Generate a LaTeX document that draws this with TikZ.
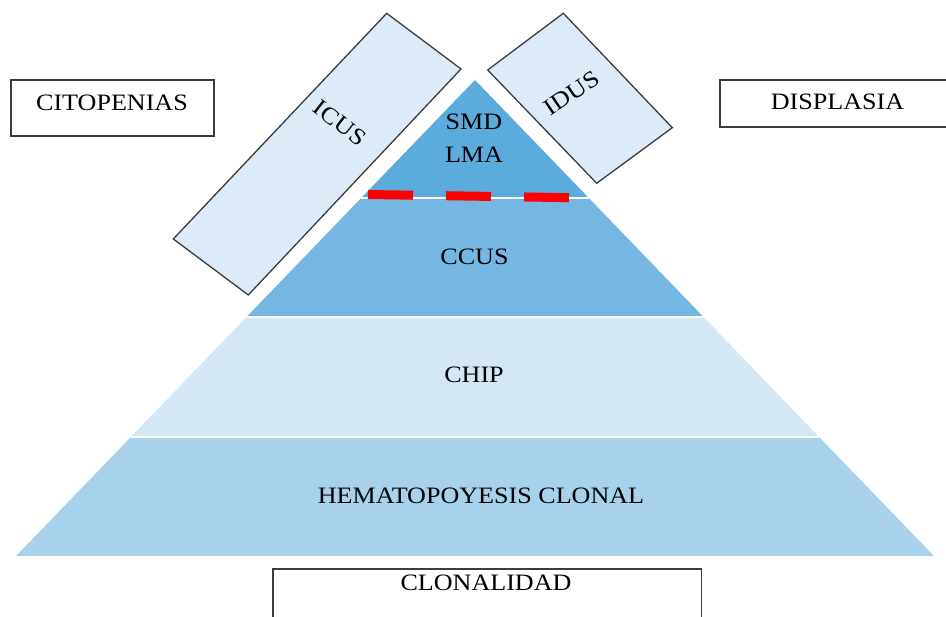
\documentclass[tikz,border=0pt]{standalone}
\usepackage{fontspec}
\setmainfont{Liberation Serif}[FakeStretch=1.11]
\begin{document}
\begin{tikzpicture}[x=1pt, y=1pt]
        \definecolor{layertop}{RGB}{92,171,221}
\definecolor{layerccus}{RGB}{117,183,226}
\definecolor{layerchip}{RGB}{211,231,245}
\definecolor{layerbase}{RGB}{168,210,236}
\definecolor{boxfill}{RGB}{220,235,247}
\definecolor{boxline}{RGB}{60,60,60}
\tikzset{lbl/.style={font=\fontsize{23.5}{28}\selectfont, inner sep=0pt}}
\useasboundingbox (0,0) rectangle (946,617);
% pyramid layers
\fill[layerbase] (16.1,61) -- (933.9,61) -- (819.1,180) -- (130.9,180) -- cycle;
\fill[layerchip] (130.9,180) -- (819.1,180) -- (703.5,300) -- (246.5,300) -- cycle;
\fill[layerccus] (246.5,300) -- (703.5,300) -- (588.8,419) -- (361.2,419) -- cycle;
\fill[layertop] (361.2,419) -- (588.8,419) -- (475,537) -- cycle;
\draw[white, line width=1.5pt] (130.9,180) -- (819.1,180);
\draw[white, line width=1.5pt] (246.5,300) -- (703.5,300);
\draw[white, line width=1.5pt] (361.2,419) -- (588.8,419);
% red limit
\coordinate (cutl) at (368,422.5);
\coordinate (cutr) at (570,419.3);
\draw[red, line width=9pt, dash pattern=on 45pt off 33pt] (cutl) -- (cutr);
\node[lbl] (smd) at (474,495) {SMD};
\node[lbl] (lma) at (474,462) {LMA};
\node[lbl] (ccus) at (474.5,360) {CCUS};
\node[lbl] (chip) at (474,242) {CHIP};
\node[lbl] (hemato) at (481,121) {HEMATOPOYESIS CLONAL};
% tilted boxes
\filldraw[fill=boxfill, draw=boxline, line width=1.3pt] (386.7,603.7) -- (461,548) -- (248.3,322) -- (173.3,378) -- cycle;
\node[lbl, rotate=-38] (icus) at (340,494) {ICUS};
\filldraw[fill=boxfill, draw=boxline, line width=1.3pt] (563.3,603.7) -- (672.3,489.3) -- (596.7,433.7) -- (487.7,547) -- cycle;
\node[lbl, rotate=34] (idus) at (571.7,523.7) {IDUS};
% side boxes
\draw[boxline, line width=1.3pt] (11,537) rectangle (214,481);
\node[lbl] (citopenias) at (112,514.5) {CITOPENIAS};
\draw[boxline, line width=1.3pt] (720,537) rectangle (952,490);
\node[lbl] (displasia) at (837.5,514.7) {DISPLASIA};
\draw[boxline, line width=1.3pt] (273,-10) rectangle (701.7,48);
\node[lbl] (clonalidad) at (486,34) {CLONALIDAD};
        \end{tikzpicture}
\end{document}
